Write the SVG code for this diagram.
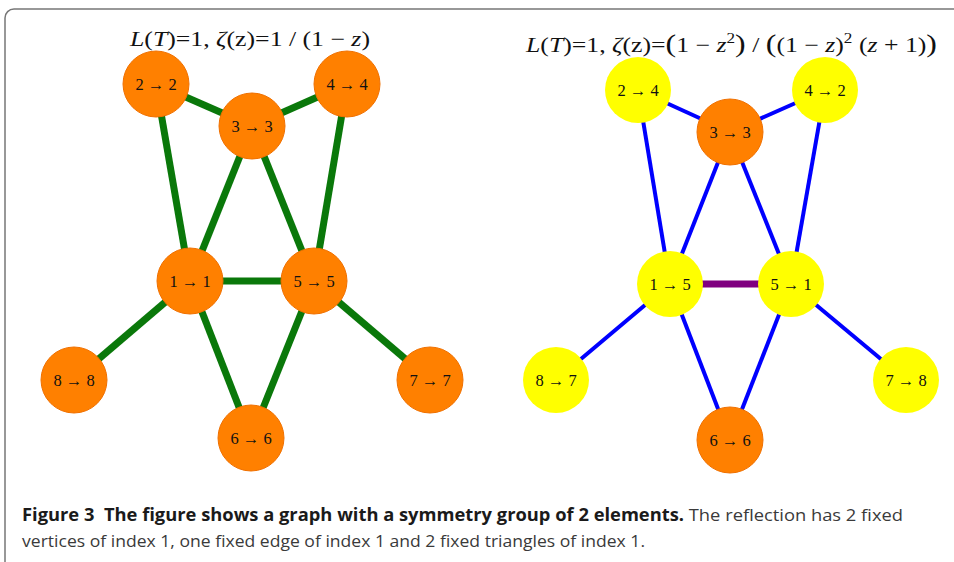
<svg xmlns="http://www.w3.org/2000/svg" width="954" height="562" viewBox="0 0 954 562">
<style>
.t{font-family:"Liberation Serif","Times New Roman",serif;fill:#111}
.nl{font-family:"Liberation Serif","Times New Roman",serif;font-size:16.5px;fill:#111;text-anchor:middle;dominant-baseline:central}
.or{fill:#ff8000;stroke:#f07000;stroke-width:1}
.ye{fill:#ffff00;stroke:none}
.g{stroke:#0a780a;stroke-width:7;stroke-linecap:butt}
.b{stroke:#0000ff;stroke-width:4}
.p{stroke:#800080;stroke-width:7}
.cap{font-family:"Open Sans","Liberation Sans",sans-serif;font-size:17px}
</style>
<rect x="5" y="9" width="1000" height="600" rx="9" fill="#fff" stroke="#777" stroke-width="1.5"/>
<text class="t" x="130" y="46" font-size="21" textLength="240" lengthAdjust="spacingAndGlyphs"><tspan font-style="italic">L</tspan>(<tspan font-style="italic">T</tspan>)=1, <tspan font-style="italic">ζ</tspan>(z)=1 / (1 − <tspan font-style="italic">z</tspan>)</text>
<text class="t" x="526" y="52" font-size="21" textLength="411" lengthAdjust="spacingAndGlyphs"><tspan font-style="italic">L</tspan>(<tspan font-style="italic">T</tspan>)=1, <tspan font-style="italic">ζ</tspan>(z)=<tspan font-size="26">(</tspan>1 − <tspan font-style="italic">z</tspan><tspan font-size="14" dy="-9">2</tspan><tspan font-size="26" dy="9">)</tspan> / <tspan font-size="26">(</tspan>(1 − <tspan font-style="italic">z</tspan>)<tspan font-size="14" dy="-9">2</tspan><tspan dy="9"> (</tspan><tspan font-style="italic">z</tspan> + 1)<tspan font-size="26">)</tspan></text>
<g id="connectors">
<line class="g" x1="156" y1="84" x2="252" y2="126"/>
<line class="g" x1="252" y1="126" x2="347" y2="84"/>
<line class="g" x1="156" y1="84" x2="190" y2="281"/>
<line class="g" x1="347" y1="84" x2="314" y2="281"/>
<line class="g" x1="252" y1="126" x2="190" y2="281"/>
<line class="g" x1="252" y1="126" x2="314" y2="281"/>
<line class="g" x1="190" y1="281" x2="314" y2="281"/>
<line class="g" x1="190" y1="281" x2="74" y2="380"/>
<line class="g" x1="314" y1="281" x2="430" y2="380"/>
<line class="g" x1="190" y1="281" x2="251" y2="438"/>
<line class="g" x1="314" y1="281" x2="251" y2="438"/>
<line class="b" x1="638" y1="90" x2="730" y2="132"/>
<line class="b" x1="730" y1="132" x2="825" y2="90"/>
<line class="b" x1="638" y1="90" x2="670" y2="284"/>
<line class="b" x1="825" y1="90" x2="791" y2="284"/>
<line class="b" x1="730" y1="132" x2="670" y2="284"/>
<line class="b" x1="730" y1="132" x2="791" y2="284"/>
<line class="p" x1="670" y1="284" x2="791" y2="284"/>
<line class="b" x1="670" y1="284" x2="556" y2="380"/>
<line class="b" x1="791" y1="284" x2="906" y2="380"/>
<line class="b" x1="670" y1="284" x2="730" y2="440"/>
<line class="b" x1="791" y1="284" x2="730" y2="440"/>
</g>
<g id="L2"><circle class="or" cx="156" cy="84" r="33"/><text class="nl" x="156" y="84">2 → 2</text></g>
<g id="L4"><circle class="or" cx="347" cy="84" r="33"/><text class="nl" x="347" y="84">4 → 4</text></g>
<g id="L3"><circle class="or" cx="252" cy="126" r="33"/><text class="nl" x="252" y="126">3 → 3</text></g>
<g id="L1"><circle class="or" cx="190" cy="281" r="33"/><text class="nl" x="190" y="281">1 → 1</text></g>
<g id="L5"><circle class="or" cx="314" cy="281" r="33"/><text class="nl" x="314" y="281">5 → 5</text></g>
<g id="L8"><circle class="or" cx="74" cy="380" r="33"/><text class="nl" x="74" y="380">8 → 8</text></g>
<g id="L7"><circle class="or" cx="430" cy="380" r="33"/><text class="nl" x="430" y="380">7 → 7</text></g>
<g id="L6"><circle class="or" cx="251" cy="438" r="33"/><text class="nl" x="251" y="438">6 → 6</text></g>
<g id="R2"><circle class="ye" cx="638" cy="90" r="33"/><text class="nl" x="638" y="90">2 → 4</text></g>
<g id="R4"><circle class="ye" cx="825" cy="90" r="33"/><text class="nl" x="825" y="90">4 → 2</text></g>
<g id="R3"><circle class="or" cx="730" cy="132" r="33"/><text class="nl" x="730" y="132">3 → 3</text></g>
<g id="R1"><circle class="ye" cx="670" cy="284" r="33"/><text class="nl" x="670" y="284">1 → 5</text></g>
<g id="R5"><circle class="ye" cx="791" cy="284" r="33"/><text class="nl" x="791" y="284">5 → 1</text></g>
<g id="R8"><circle class="ye" cx="556" cy="380" r="33"/><text class="nl" x="556" y="380">8 → 7</text></g>
<g id="R7"><circle class="ye" cx="906" cy="380" r="33"/><text class="nl" x="906" y="380">7 → 8</text></g>
<g id="R6"><circle class="or" cx="730" cy="440" r="33"/><text class="nl" x="730" y="440">6 → 6</text></g>
<text class="cap" x="22" y="521" xml:space="preserve" textLength="881" lengthAdjust="spacingAndGlyphs"><tspan font-weight="bold" fill="#1a1a1a">Figure 3  The figure shows a graph with a symmetry group of 2 elements.</tspan><tspan fill="#3a3a3a"> The reflection has 2 fixed</tspan></text>
<text class="cap" x="22" y="547" fill="#3a3a3a" textLength="623" lengthAdjust="spacingAndGlyphs">vertices of index 1, one fixed edge of index 1 and 2 fixed triangles of index 1.</text>
</svg>
